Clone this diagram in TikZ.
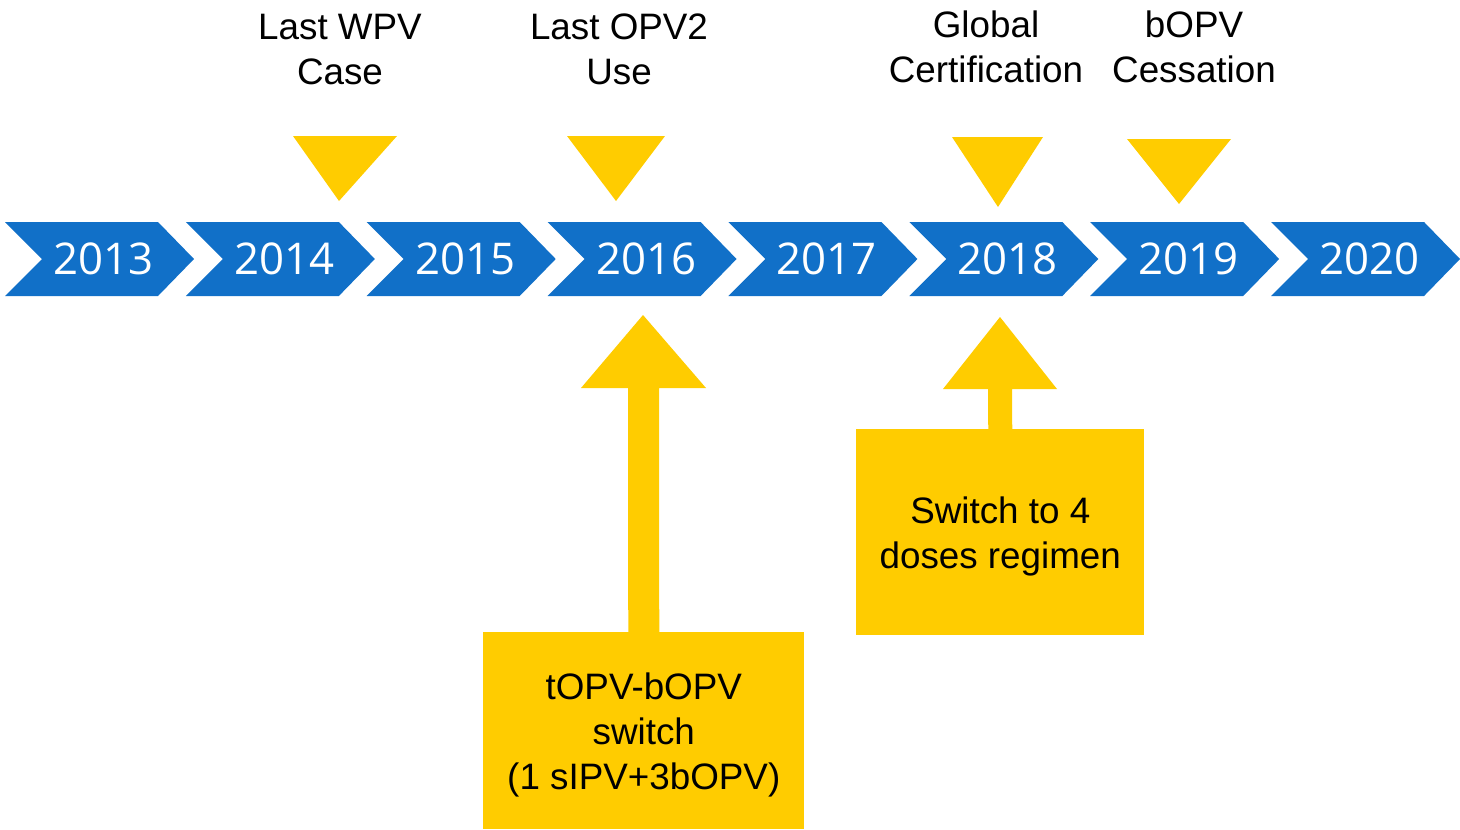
\documentclass[tikz,border=0pt]{standalone}
\usepackage{fontspec}
\setmainfont{Liberation Sans}
\newfontfamily\yearfont{Open Sans}
\definecolor{chevblue}{RGB}{17,112,200}
\definecolor{gold}{RGB}{255,204,0}
\begin{document}
\begin{tikzpicture}[x=0.75pt,y=-0.75pt,
  yearlabel/.style={text=white,font=\yearfont\fontsize{32.8}{40}\selectfont,inner sep=0},
  toplabel/.style={font=\fontsize{27.6}{33.75}\selectfont,align=center,inner sep=0},
  goldbox/.style={fill=gold,inner sep=0,anchor=north west},
  boxtext/.style={font=\fontsize{27.6}{33.75}\selectfont,align=center,inner sep=0},
  marker/.style={fill=gold}]
\useasboundingbox (0,0) rectangle (1460,829);
% chevrons
\foreach \yr [count=\i from 0] in {2013,2014,2015,2016,2017,2018,2019,2020} {
  \pgfmathsetmacro\lx{5+180.86*\i}
  \fill[chevblue] (\lx,222) -- ++(153,0) -- ++(36,37) -- ++(-36,37) -- ++(-153,0) -- ++(37,-37) -- cycle;
  \node[yearlabel] (y\yr) at (\lx+98.5,259) {\yr};
}
% top labels
\node[toplabel] (lwpv) at (340,49.5) {Last WPV\\Case};
\node[toplabel] (lopv) at (619,49.5) {Last OPV2\\Use};
\node[toplabel] (gcert) at (986,46.5) {Global\\Certification};
\node[toplabel] (bcess) at (1194,46.5) {bOPV\\Cessation};
% down triangles
\fill[marker] (293,136) -- (397,136) -- (339,201) -- cycle;
\fill[marker] (567,136) -- (665,136) -- (616,201) -- cycle;
\fill[marker] (952,137) -- (1043,137) -- (998,207) -- cycle;
\fill[marker] (1127,139) -- (1231,139) -- (1179,204) -- cycle;
% boxes
\node[goldbox,minimum width=240.75pt,minimum height=147.75pt] (box1) at (483,632) {};
\node[boxtext] (box1text) at ([yshift=-4.5*0.75pt]box1.center) {tOPV-bOPV\\switch\\(1 sIPV+3bOPV)};
\node[goldbox,minimum width=216pt,minimum height=154.5pt] (box2) at (856,429) {};
\node[boxtext] (box2text) at ([yshift=-4*0.75pt]box2.center) {Switch to 4\\doses regimen};
% up arrows
\fill[marker] ([xshift=-15.5*0.75pt]box1.north) -- (628,388) -- (581,388) -- (643,315) -- (706,388) -- (659,388) -- ([xshift=15.5*0.75pt]box1.north) -- cycle;
\fill[marker] ([xshift=-12*0.75pt]box2.north) -- (988,389) -- (943,389) -- (1000,317) -- (1057,389) -- (1012,389) -- ([xshift=12*0.75pt]box2.north) -- cycle;
\end{tikzpicture}
\end{document}
